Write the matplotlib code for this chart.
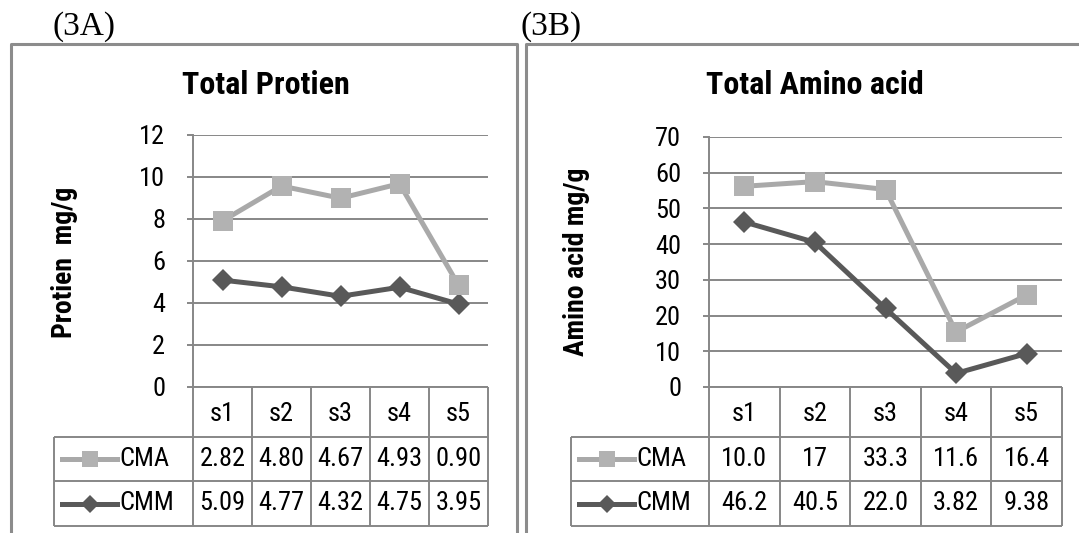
import numpy as np
import matplotlib
matplotlib.use('Agg')
import matplotlib.pyplot as plt
from matplotlib import font_manager

# data (CMA is drawn stacked on top of CMM, as in the original Excel chart)
samples = ['s1', 's2', 's3', 's4', 's5']
protein_cma = ['2.82', '4.80', '4.67', '4.93', '0.90']
protein_cmm = ['5.09', '4.77', '4.32', '4.75', '3.95']
amino_cma = ['10.0', '17', '33.3', '11.6', '16.4']
amino_cmm = ['46.2', '40.5', '22.0', '3.82', '9.38']

W, H = 1079, 533
LIGHT = '#a9a9a9'
DARK = '#595959'
GRID = '#878787'

names = {f.name for f in font_manager.fontManager.ttflist}
NARROW = next((n for n in ['Liberation Sans Narrow', 'Roboto Condensed', 'Open Sans Condensed']
               if n in names), 'Liberation Sans')
SERIF = 'Liberation Serif'

fig = plt.figure(figsize=(W / 100, H / 100), dpi=100)
fig.patch.set_facecolor('white')


def box(l, t, r, b):
    return [l / W, 1 - b / H, (r - l) / W, (b - t) / H]


# panel frames
bg = fig.add_axes([0, 0, 1, 1])
bg.set_xlim(0, W)
bg.set_ylim(H, 0)
bg.axis('off')
bg.plot([11, 11, 517, 517], [H, 44, 44, H], color='#8c8c8c', lw=2.2)
bg.plot([526, 526, W], [H, 44, 44], color='#8c8c8c', lw=2.2)


def panel(tag, tag_x, title, title_x, ylabel, ylabel_x, ymax, ystep,
          cma_txt, cmm_txt, plot_l, plot_r, plot_t, leg_l):
    rows = [387, 437, 481, 526]
    cma = np.array([float(v) for v in cma_txt])
    cmm = np.array([float(v) for v in cmm_txt])
    colw = (plot_r - plot_l) / 5
    x = np.arange(len(samples))

    ax = fig.add_axes(box(plot_l, plot_t, plot_r, rows[0]))
    ax.plot(x, cmm, color=DARK, lw=3.6, marker='D', ms=11, mew=0, zorder=3, clip_on=False)
    ax.plot(x, cmm + cma, color=LIGHT, lw=3.6, marker='s', ms=14, mew=0,
            markerfacecolor='#b2b2b2', zorder=3, clip_on=False)
    ax.set_xlim(-0.5, 4.5)
    ax.set_ylim(0, ymax)
    ax.set_yticks(np.arange(0, ymax + 1, ystep))
    ax.set_xticks([])
    ax.yaxis.grid(True, color=GRID, lw=1.4)
    ax.set_axisbelow(True)
    for s in ['top', 'right', 'bottom']:
        ax.spines[s].set_visible(False)
    ax.spines['left'].set_color(GRID)
    ax.spines['left'].set_linewidth(1.4)
    ax.tick_params(axis='y', length=4, color=GRID, width=1.4, pad=16, labelsize=19)
    for lab in ax.get_yticklabels():
        lab.set_fontfamily(NARROW)

    # data table under the plot
    tax = fig.add_axes(box(leg_l, rows[0], plot_r, rows[3]))
    xl = -0.5 - (plot_l - leg_l) / colw
    tax.set_xlim(xl, 4.5)
    tax.set_ylim(rows[3], rows[0])
    tax.axis('off')
    kw = dict(color=GRID, lw=1.4, clip_on=False)
    tax.hlines(rows[0], -0.5, 4.5, **kw)
    tax.hlines(rows[1:], xl, 4.5, **kw)
    tax.vlines(np.arange(6) - 0.5, rows[0], rows[3], **kw)
    tax.vlines(xl, rows[1], rows[3], **kw)
    tfont = dict(fontsize=19, fontfamily=NARROW, ha='center', va='center')
    for i, s in enumerate(samples):
        tax.text(i, (rows[0] + rows[1]) / 2 + 2, s, **tfont)
        tax.text(i, (rows[1] + rows[2]) / 2, cma_txt[i], **tfont)
        tax.text(i, (rows[2] + rows[3]) / 2, cmm_txt[i], **tfont)
    px = 1 / colw
    for r, name, col, mk, ms, fc in [(0, 'CMA', LIGHT, 's', 11, '#b2b2b2'),
                                     (1, 'CMM', DARK, 'D', 9, DARK)]:
        yc = (rows[1 + r] + rows[2 + r]) / 2
        tax.plot([xl + 8 * px, xl + 63 * px], [yc, yc], color=col, lw=3.6, clip_on=False)
        tax.plot([xl + 36 * px], [yc], marker=mk, ms=ms, mew=0, color=fc, clip_on=False)
        tax.text(xl + 65 * px, yc, name, fontsize=19, fontfamily=NARROW, ha='left', va='center')

    fig.text(tag_x / W, 1 - 27 / H, tag, fontsize=24, fontfamily=SERIF, ha='left', va='center')
    fig.text(title_x / W, 1 - 85 / H, title, fontsize=23, fontweight='bold',
             fontfamily=NARROW, ha='center', va='center')
    fig.text(ylabel_x / W, 1 - 262 / H, ylabel, fontsize=20, fontweight='bold',
             fontfamily=NARROW, rotation=90, ha='center', va='center')


panel('(3A)', 53, 'Total Protien', 266, 'Protien  mg/g', 64, 12, 2,
      protein_cma, protein_cmm, 193, 488, 135, 54)
panel('(3B)', 520, 'Total Amino acid', 815, 'Amino acid mg/g', 576, 70, 10,
      amino_cma, amino_cmm, 709, 1062, 137, 571)

fig.savefig('out.png', dpi=100)
